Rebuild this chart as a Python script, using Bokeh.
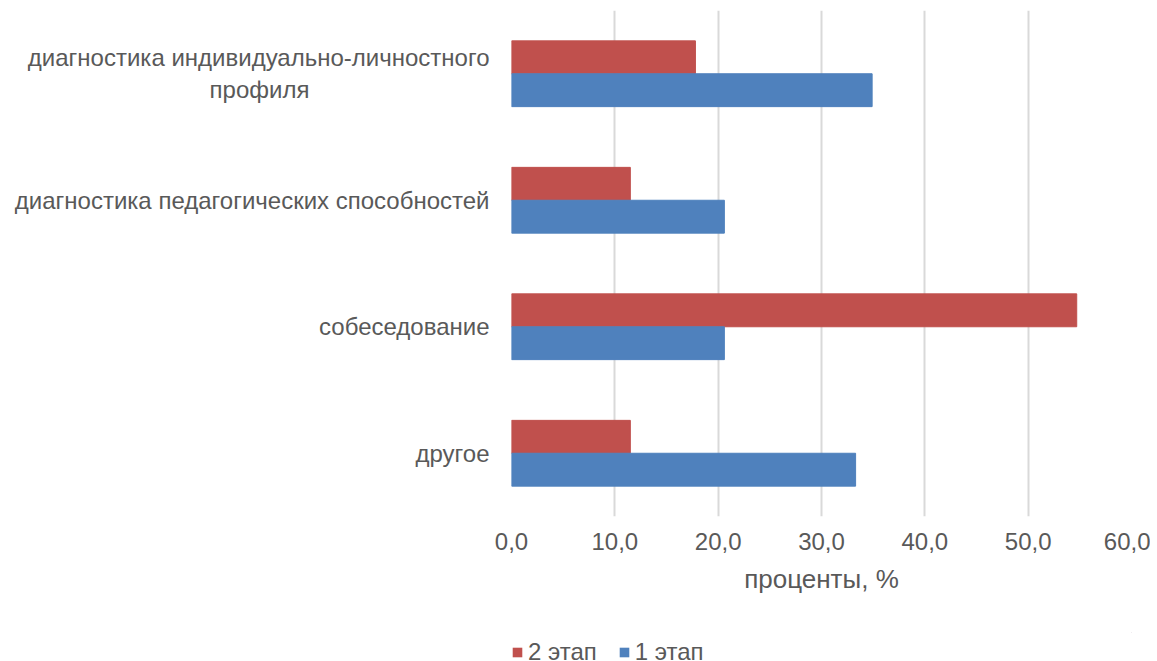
from bokeh.plotting import figure
from bokeh.layouts import column
from bokeh.models import (Range1d, FactorRange, ColumnDataSource, Legend, LegendItem,
                          FixedTicker, CustomJSTickFormatter)
from bokeh.transform import dodge
from bokeh.embed import file_html
from bokeh.resources import INLINE

# Data
categories = [
    "диагностика индивидуально-личностного профиля",
    "диагностика педагогических способностей",
    "собеседование",
    "другое",
]
stage2 = [17.8, 11.5, 54.7, 11.5]   # 2 этап
stage1 = [34.9, 20.6, 20.6, 33.3]   # 1 этап
x_ticks = [0, 10, 20, 30, 40, 50, 60]
series_names = ["2 этап", "1 этап"]

RED = "#C0504D"
BLUE = "#4F81BD"
TXT = "#595959"
FONT = "Liberation Sans"
NBSP = "\u00a0"

# axis labels: first category wrapped on two lines, second line visually centred
labels = list(categories)
labels[0] = "диагностика индивидуально-личностного\nпрофиля" + NBSP * 27

src = ColumnDataSource(dict(cat=labels, s2=stage2, s1=stage1))

y_factors = list(reversed(labels))
p = figure(
    width=1150, height=632,
    y_range=FactorRange(*y_factors),
    x_range=Range1d(0, 60),
    output_backend="svg", toolbar_location=None,
    min_border_left=511, min_border_right=19, min_border_top=10, min_border_bottom=116,
)
p.outline_line_color = None
p.background_fill_color = "white"
p.border_fill_color = "white"

p.hbar(y=dodge("cat", 0.13, range=p.y_range), right="s2", left=0, height=0.26,
       source=src, fill_color=RED, line_color=RED)
p.hbar(y=dodge("cat", -0.13, range=p.y_range), right="s1", left=0, height=0.26,
       source=src, fill_color=BLUE, line_color=BLUE)

# x axis
p.xaxis.ticker = FixedTicker(ticks=x_ticks)
p.xaxis.formatter = CustomJSTickFormatter(code="return tick.toFixed(1).replace('.', ',');")
p.xaxis.axis_line_color = None
p.xaxis.major_tick_line_color = None
p.xaxis.minor_tick_line_color = None
p.xaxis.major_label_text_font = FONT
p.xaxis.major_label_text_font_size = "24px"
p.xaxis.major_label_text_color = TXT
p.xaxis.major_label_standoff = 10
p.xaxis.axis_label = "проценты, %"
p.xaxis.axis_label_text_font = FONT
p.xaxis.axis_label_text_font_size = "26px"
p.xaxis.axis_label_text_font_style = "normal"
p.xaxis.axis_label_text_color = TXT
p.xaxis.axis_label_standoff = 11

# y axis
p.yaxis.axis_line_color = None
p.yaxis.major_tick_line_color = None
p.yaxis.minor_tick_line_color = None
p.yaxis.major_label_text_font = FONT
p.yaxis.major_label_text_font_size = "24px"
p.yaxis.major_label_text_color = TXT
p.yaxis.major_label_standoff = 16

# grid
p.xgrid.grid_line_color = "#D9D9D9"
p.xgrid.grid_line_width = 2
p.xgrid.ticker = FixedTicker(ticks=x_ticks)
p.ygrid.grid_line_color = None

# legend strip below the chart (its renderers hold one bar each, outside the strip's range)
lg = figure(width=1150, height=29, x_range=Range1d(0, 1), y_range=Range1d(0, 1),
            output_backend="svg", toolbar_location=None,
            min_border_left=0, min_border_right=0, min_border_top=0, min_border_bottom=0)
lg.axis.visible = False
lg.grid.visible = False
lg.outline_line_color = None
lg.border_fill_color = "white"
e2 = lg.hbar(y=[5], right=[5], left=[4], height=0.1, fill_color=RED, line_color=None)
e1 = lg.hbar(y=[5], right=[5], left=[4], height=0.1, fill_color=BLUE, line_color=None)
legend = Legend(
    items=[LegendItem(label=series_names[0], renderers=[e2]),
           LegendItem(label=series_names[1], renderers=[e1])],
    orientation="horizontal",
    location=(0, -5),
    glyph_width=12, glyph_height=12,
    label_text_font=FONT, label_text_font_size="24px", label_text_color=TXT,
    label_standoff=5, spacing=21, padding=0, margin=0,
    border_line_color=None, background_fill_alpha=0,
)
lg.add_layout(legend, "center")

layout = column(p, lg, spacing=0)
open("out.html", "w").write(file_html(layout, INLINE))
